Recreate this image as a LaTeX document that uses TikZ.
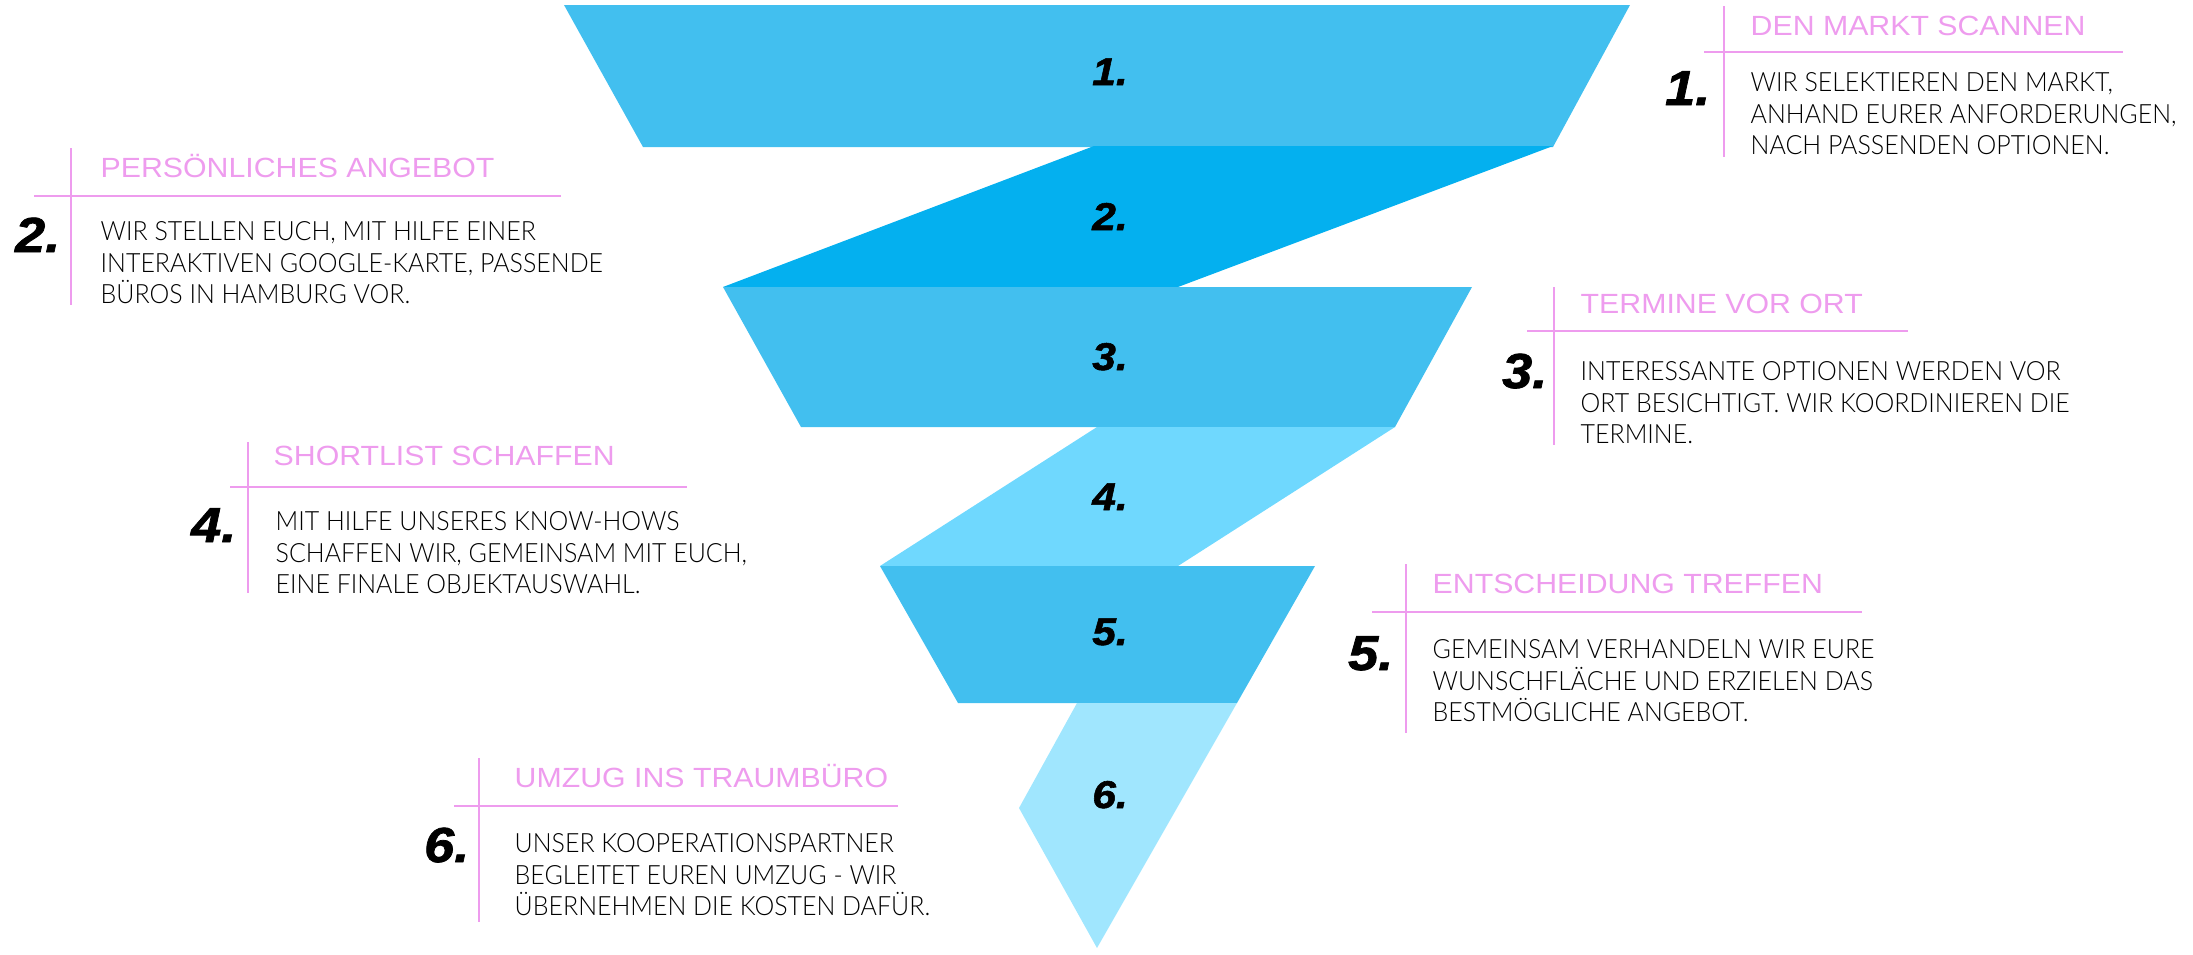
\documentclass[tikz,border=0pt]{standalone}
\usepackage{fontspec}
\usepackage[HTML]{xcolor}
\usepackage{tikz}
\usetikzlibrary{positioning}
\IfFontExistsTF{Lato Light}{\newfontfamily\bodyfont{Lato Light}[FakeStretch=0.94]}{\newfontfamily\bodyfont{Lato}[FakeStretch=0.94]}
\newfontfamily\headfont{Liberation Sans}[FakeStretch=1.09]
\newfontfamily\numfont{Liberation Sans}[BoldItalicFeatures={FakeBold=1.5,FakeStretch=1.1}]
\definecolor{bandA}{HTML}{42BFEF}
\definecolor{bandB}{HTML}{04B0EF}
\definecolor{bandC}{HTML}{6FD8FE}
\definecolor{bandD}{HTML}{A0E6FE}
\definecolor{rulepink}{HTML}{EE9CEE}

\begin{document}
\begin{tikzpicture}[x=0.01cm,y=-0.01cm,
  rule/.style={draw=rulepink,line width=0.45pt},
  funnum/.style={font=\numfont\bfseries\itshape\fontsize{11}{11}\selectfont,anchor=base,inner sep=0},
  stepnum/.style={font=\numfont\bfseries\itshape\fontsize{14}{14}\selectfont,anchor=base east,inner sep=0},
  stephead/.style={font=\headfont\fontsize{7.9}{9}\selectfont,text=rulepink,anchor=base west,inner sep=0},
  stepbody/.style={font=\bodyfont\fontsize{7.55}{8.93}\selectfont,align=left,anchor=north west,inner sep=0}]
\useasboundingbox (0,0) rectangle (2193,954);

\fill[bandA] (564,5) -- (1630,5) -- (1553,147) -- (643,147) -- cycle;
\fill[bandB] (1094,146) -- (1553,146) -- (1178,287) -- (723,287) -- cycle;
\fill[bandA] (723,287) -- (1472,287) -- (1395,427) -- (801,427) -- cycle;
\fill[bandC] (1097,427) -- (1395,427) -- (1178,566) -- (880,566) -- cycle;
\fill[bandA] (880,566) -- (1315,566) -- (1237,703) -- (958,703) -- cycle;
\fill[bandD] (1077,703) -- (1237,703) -- (1097,948) -- (1019,808) -- cycle;

\node[funnum] (f1) at (1110,85) {1.};
\node[funnum] (f2) at (1110,230) {2.};
\node[funnum] (f3) at (1110,370) {3.};
\node[funnum] (f4) at (1110,510) {4.};
\node[funnum] (f5) at (1110,645) {5.};
\node[funnum] (f6) at (1110,808) {6.};

\draw[rule] (1724,6) -- (1724,157);
\draw[rule] (1704,52) -- (2123,52);
\node[stephead] (s1head) at (1750,35) {DEN MARKT SCANNEN};
\node[stepnum] (s1num) at (1711,105) {1.};
\node[stepbody] (s1text) at (1750,72) {WIR SELEKTIEREN DEN MARKT,\\ANHAND EURER ANFORDERUNGEN,\\NACH PASSENDEN OPTIONEN.};

\draw[rule] (71,148) -- (71,305);
\draw[rule] (34,196) -- (561,196);
\node[stephead] (s2head) at (100,177) {PERSÖNLICHES ANGEBOT};
\node[stepnum] (s2num) at (61,252) {2.};
\node[stepbody] (s2text) at (100,221) {WIR STELLEN EUCH, MIT HILFE EINER\\INTERAKTIVEN GOOGLE-KARTE, PASSENDE\\BÜROS IN HAMBURG VOR.};

\draw[rule] (1554,287) -- (1554,445);
\draw[rule] (1527,331) -- (1908,331);
\node[stephead] (s3head) at (1580,313) {TERMINE VOR ORT};
\node[stepnum] (s3num) at (1548,388) {3.};
\node[stepbody] (s3text) at (1580,361) {INTERESSANTE OPTIONEN WERDEN VOR\\ORT BESICHTIGT. WIR KOORDINIEREN DIE\\TERMINE.};

\draw[rule] (248,442) -- (248,593);
\draw[rule] (230,487) -- (687,487);
\node[stephead] (s4head) at (273,465) {SHORTLIST SCHAFFEN};
\node[stepnum] (s4num) at (237,542) {4.};
\node[stepbody] (s4text) at (275,511) {MIT HILFE UNSERES KNOW-HOWS\\SCHAFFEN WIR, GEMEINSAM MIT EUCH,\\EINE FINALE OBJEKTAUSWAHL.};

\draw[rule] (1406,564) -- (1406,733);
\draw[rule] (1372,612) -- (1862,612);
\node[stephead] (s5head) at (1432,593) {ENTSCHEIDUNG TREFFEN};
\node[stepnum] (s5num) at (1394,670) {5.};
\node[stepbody] (s5text) at (1432,639) {GEMEINSAM VERHANDELN WIR EURE\\WUNSCHFLÄCHE UND ERZIELEN DAS\\BESTMÖGLICHE ANGEBOT.};

\draw[rule] (479,758) -- (479,922);
\draw[rule] (454,806) -- (898,806);
\node[stephead] (s6head) at (514,787) {UMZUG INS TRAUMBÜRO};
\node[stepnum] (s6num) at (470,862) {6.};
\node[stepbody] (s6text) at (514,833) {UNSER KOOPERATIONSPARTNER\\BEGLEITET EUREN UMZUG - WIR\\ÜBERNEHMEN DIE KOSTEN DAFÜR.};
\end{tikzpicture}
\end{document}
